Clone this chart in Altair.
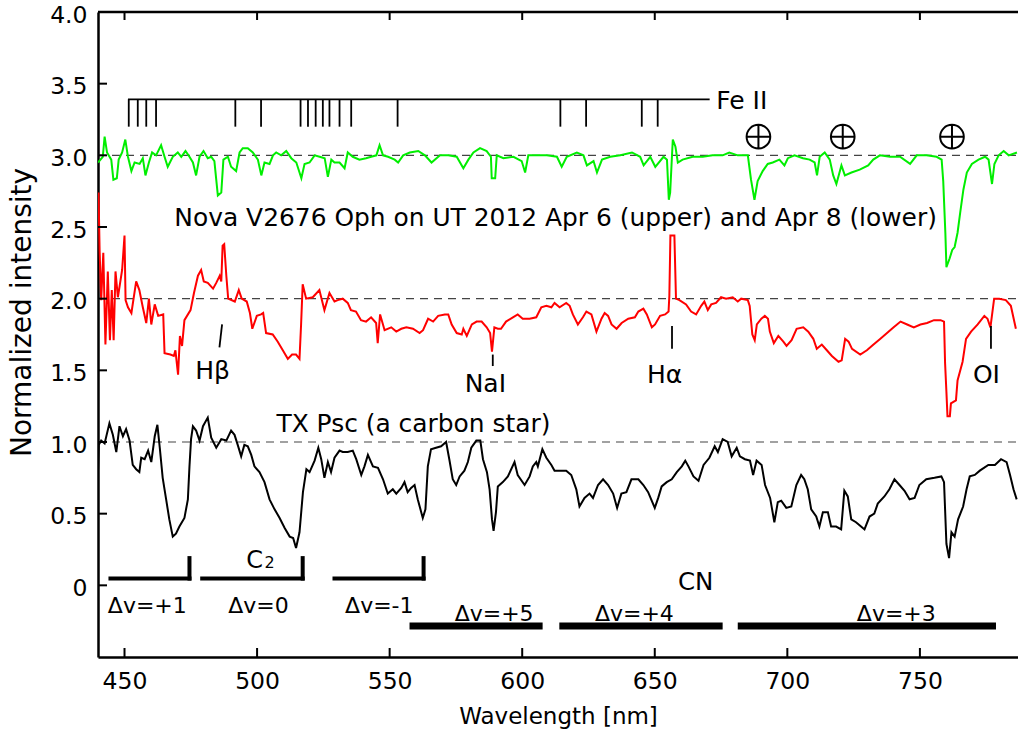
import altair as alt
import pandas as pd

# ---------------- data ----------------
green_wl = [440.0, 441.8, 442.5, 443.4, 445.0, 445.8, 447.1, 447.8, 449.1, 450.3, 451.3, 452.6, 453.8, 455.7, 456.9,
            457.9, 459.2, 460.4, 461.9, 463.8, 465.1, 466.3, 468.2, 470.1, 471.4, 473.0, 474.5, 475.8, 477.0, 478.3,
            479.8, 481.4, 482.7, 483.9, 484.6, 485.2, 486.5, 487.3, 489.0, 490.2, 492.1, 493.4, 494.6, 496.5, 498.4,
            500.3, 501.6, 502.8, 504.7, 506.0, 507.2, 509.1, 511.0, 512.9, 514.8, 516.7, 517.9, 519.8, 521.7, 523.6,
            525.5, 526.7, 528.0, 529.2, 531.1, 533.0, 534.2, 536.1, 538.6, 541.1, 543.0, 545.0, 546.2, 547.5, 549.4,
            551.9, 553.2, 555.1, 557.6, 560.8, 563.3, 565.8, 569.0, 572.1, 575.3, 577.8, 579.7, 581.6, 584.1, 586.6,
            588.2, 588.5, 589.8, 590.4, 592.9, 596.7, 599.8, 601.1, 602.3, 605.5, 609.3, 613.1, 614.9, 616.8, 620.6,
            623.1, 624.4, 626.9, 628.2, 630.1, 633.2, 637.0, 641.4, 644.5, 645.8, 648.3, 650.2, 653.3, 654.6, 655.3,
            655.8, 656.8, 657.8, 658.7, 660.5, 664.3, 668.1, 671.8, 675.6, 678.1, 681.3, 685.1, 686.3, 687.6, 688.8,
            690.7, 692.6, 694.5, 697.0, 698.9, 700.2, 702.7, 705.9, 708.4, 710.3, 711.2, 712.2, 714.1, 716.0, 717.3,
            718.5, 720.4, 721.7, 724.2, 727.3, 730.5, 732.4, 734.9, 738.7, 742.5, 746.3, 748.8, 752.5, 756.3, 758.2,
            758.8, 759.6, 760.0, 761.2, 762.2, 763.1, 764.2, 765.2, 766.4, 767.7, 769.6, 772.1, 774.6, 775.9, 777.2,
            778.1, 779.7, 781.6, 783.5, 786.6]
green_v = [2.95, 2.99, 3.13, 3.02, 2.97, 2.83, 2.84, 2.97, 3.02, 3.11, 2.99, 2.89, 2.95, 2.94, 2.98,
           2.86, 2.95, 3.02, 3.00, 3.07, 2.99, 2.92, 2.99, 3.02, 2.99, 3.03, 2.99, 2.95, 2.86, 2.99,
           3.03, 2.98, 2.99, 2.96, 2.83, 2.72, 2.74, 2.97, 2.99, 2.92, 2.89, 3.02, 3.05, 3.05, 3.02,
           2.97, 2.86, 2.95, 2.94, 3.00, 3.02, 3.00, 3.03, 2.98, 2.95, 2.84, 2.94, 2.95, 3.00, 2.99,
           2.98, 2.85, 2.97, 2.95, 2.95, 2.91, 3.02, 2.99, 2.97, 2.98, 2.99, 3.00, 3.07, 3.00, 2.99,
           2.97, 2.95, 3.00, 3.02, 3.03, 3.00, 2.95, 3.00, 3.00, 2.99, 2.91, 2.97, 3.02, 3.05, 3.03,
           2.99, 2.84, 2.84, 3.00, 2.98, 2.99, 2.96, 2.88, 3.00, 3.00, 3.00, 2.99, 2.92, 2.99, 3.02,
           3.00, 2.93, 2.96, 2.88, 2.97, 2.99, 3.00, 3.02, 2.99, 2.93, 2.99, 2.92, 2.99, 2.97, 2.69,
           2.74, 3.11, 3.06, 2.95, 2.97, 2.99, 2.99, 3.00, 3.00, 3.02, 3.00, 3.00, 2.83, 2.69, 2.82,
           2.89, 2.94, 2.95, 2.97, 2.93, 2.98, 3.00, 2.98, 2.97, 2.95, 2.86, 2.99, 3.02, 2.97, 2.86,
           2.80, 2.93, 2.86, 2.88, 2.90, 2.93, 2.97, 3.00, 2.99, 2.99, 2.94, 3.00, 3.00, 2.99, 2.97,
           2.82, 2.46, 2.22, 2.28, 2.34, 2.36, 2.46, 2.60, 2.76, 2.88, 2.94, 2.97, 2.99, 2.97, 2.80,
           2.94, 3.00, 3.03, 3.00, 3.02]

red_wl = [440.2, 440.6, 441.2, 442.0, 442.8, 443.7, 444.5, 445.2, 445.9, 446.6, 447.5, 449.1, 450.0, 450.4, 451.3,
          452.6, 454.4, 455.6, 456.9, 458.2, 459.2, 460.1, 461.4, 462.7, 464.6, 465.1, 467.3, 468.6, 469.2, 470.2,
          470.9, 471.7, 472.6, 474.9, 476.2, 477.7, 478.9, 479.9, 481.4, 483.4, 484.6, 485.9, 486.5, 487.0, 487.6,
          488.4, 489.1, 491.6, 493.1, 494.2, 496.1, 497.3, 498.2, 499.9, 501.5, 502.3, 503.4, 505.9, 507.8, 509.7,
          511.6, 513.2, 514.7, 516.0, 516.6, 517.2, 518.5, 521.0, 523.5, 525.4, 527.3, 529.2, 530.4, 532.3, 534.2,
          535.4, 537.3, 539.2, 541.1, 543.0, 544.9, 545.5, 546.4, 548.1, 550.6, 552.5, 554.4, 556.3, 558.8, 561.3,
          562.6, 564.5, 566.4, 568.3, 570.8, 572.1, 573.4, 575.3, 577.2, 577.8, 579.1, 581.0, 582.8, 584.7, 586.6,
          587.9, 588.6, 589.5, 590.8, 592.0, 593.9, 596.5, 598.3, 600.2, 602.8, 605.3, 607.2, 609.1, 611.0, 612.2,
          614.1, 616.6, 617.9, 619.1, 621.0, 622.9, 624.2, 626.1, 628.0, 629.9, 631.1, 632.4, 633.7, 635.6, 637.5,
          640.0, 642.5, 643.8, 645.7, 647.0, 648.9, 650.1, 652.0, 653.9, 655.2, 655.5, 655.9, 657.4, 658.0, 659.3,
          661.8, 663.7, 665.6, 667.5, 668.7, 670.0, 671.3, 673.1, 675.0, 676.9, 679.4, 681.3, 682.6, 685.1, 685.8,
          686.8, 687.7, 688.5, 690.2, 691.5, 692.7, 693.4, 694.9, 696.6, 698.5, 699.7, 701.6, 703.5, 706.0, 707.9,
          709.8, 711.1, 713.0, 714.9, 716.8, 719.3, 720.5, 721.8, 723.1, 724.4, 727.5, 730.0, 732.5, 735.1, 737.6,
          740.1, 742.7, 745.2, 747.7, 750.2, 752.7, 755.3, 757.8, 759.1, 759.5, 760.0, 760.4, 761.3, 761.7, 763.6,
          764.2, 766.1, 767.4, 769.3, 771.8, 774.3, 775.5, 776.6, 778.0, 779.9, 782.4, 784.3, 786.2]
red_v = [2.74, 2.34, 1.99, 2.32, 1.68, 2.19, 1.71, 2.06, 1.71, 2.19, 2.01, 2.20, 2.44, 1.99, 1.94,
         1.90, 2.12, 2.06, 1.94, 1.83, 2.00, 1.82, 1.96, 1.88, 1.89, 1.62, 1.61, 1.60, 1.64, 1.47,
         1.74, 1.67, 1.85, 1.92, 2.04, 2.16, 2.20, 2.12, 2.11, 2.07, 2.11, 2.16, 2.12, 2.37, 2.38,
         2.16, 2.00, 1.98, 2.06, 2.00, 1.98, 1.90, 1.79, 1.88, 1.89, 1.90, 1.76, 1.75, 1.70, 1.64,
         1.58, 1.61, 1.61, 1.58, 1.82, 2.10, 2.00, 2.01, 2.06, 1.92, 2.04, 1.98, 1.99, 2.00, 1.97,
         1.92, 1.91, 1.85, 1.84, 1.87, 1.83, 1.69, 1.89, 1.78, 1.80, 1.77, 1.79, 1.80, 1.79, 1.76,
         1.78, 1.86, 1.84, 1.88, 1.89, 1.89, 1.82, 1.76, 1.75, 1.79, 1.74, 1.82, 1.84, 1.84, 1.80,
         1.76, 1.63, 1.80, 1.79, 1.79, 1.84, 1.87, 1.89, 1.86, 1.86, 1.87, 1.94, 1.95, 1.94, 1.97,
         1.94, 1.97, 1.95, 1.89, 1.82, 1.87, 1.91, 1.89, 1.77, 1.86, 1.90, 1.88, 1.82, 1.79, 1.83,
         1.86, 1.87, 1.91, 1.93, 1.89, 1.80, 1.82, 1.88, 1.89, 1.91, 2.02, 2.44, 2.44, 2.00, 1.99,
         1.96, 1.91, 1.89, 1.95, 1.98, 1.92, 1.96, 1.97, 2.01, 2.00, 2.01, 1.98, 2.00, 1.99, 1.95,
         1.75, 1.71, 1.82, 1.86, 1.88, 1.86, 1.77, 1.69, 1.74, 1.70, 1.67, 1.71, 1.79, 1.80, 1.77,
         1.72, 1.65, 1.68, 1.64, 1.60, 1.56, 1.57, 1.72, 1.70, 1.65, 1.61, 1.64, 1.68, 1.72, 1.76,
         1.80, 1.84, 1.82, 1.80, 1.82, 1.83, 1.85, 1.85, 1.84, 1.55, 1.35, 1.18, 1.18, 1.27, 1.29,
         1.43, 1.56, 1.72, 1.77, 1.82, 1.88, 1.86, 1.80, 2.00, 2.00, 1.99, 1.95, 1.79]

black_wl = [440.0, 440.3, 441.2, 442.5, 444.3, 445.6, 446.9, 448.1, 449.4, 450.6, 451.9, 453.1, 454.4, 455.6, 456.3,
            457.6, 458.9, 460.1, 461.4, 462.4, 463.3, 464.4, 465.7, 466.9, 468.2, 469.4, 470.7, 472.6, 473.9, 474.5,
            475.1, 475.8, 477.0, 478.3, 479.6, 481.4, 482.7, 484.6, 486.5, 488.4, 490.2, 491.5, 492.7, 494.0, 495.2,
            496.5, 497.8, 499.0, 500.9, 502.8, 504.7, 506.6, 508.5, 510.4, 512.3, 513.6, 514.7, 516.0, 517.3, 518.6,
            519.8, 521.7, 523.1, 524.2, 525.4, 526.7, 527.9, 529.2, 531.1, 532.3, 534.2, 536.1, 537.4, 539.3, 540.5,
            541.8, 543.7, 545.6, 547.5, 549.3, 551.2, 552.5, 554.4, 555.6, 556.8, 558.1, 559.4, 560.6, 562.5, 563.5,
            564.4, 565.6, 567.5, 569.4, 571.3, 572.5, 573.8, 575.1, 576.4, 578.2, 579.5, 580.8, 582.7, 584.2, 585.2,
            586.7, 587.7, 588.6, 589.2, 590.1, 590.8, 592.7, 594.6, 597.1, 598.3, 600.9, 602.8, 604.0, 605.3, 605.9,
            607.6, 609.1, 611.0, 612.2, 614.1, 616.6, 618.5, 620.4, 621.6, 623.5, 625.4, 626.7, 628.6, 630.5, 632.4,
            634.3, 635.8, 637.4, 639.3, 641.2, 643.8, 645.7, 647.5, 650.0, 651.3, 652.6, 654.5, 656.4, 658.3, 660.2,
            661.5, 662.7, 664.6, 666.5, 668.4, 670.6, 672.6, 673.8, 675.6, 677.5, 679.0, 680.9, 682.1, 684.0, 685.9,
            687.1, 688.4, 690.3, 691.6, 693.5, 695.1, 696.4, 697.7, 699.6, 701.5, 703.4, 705.2, 706.4, 707.7, 709.0,
            710.9, 712.1, 713.4, 715.3, 716.5, 718.4, 720.3, 721.5, 722.8, 724.1, 725.9, 727.8, 729.1, 731.0, 732.8,
            734.1, 736.6, 738.5, 740.4, 742.3, 744.2, 746.1, 748.0, 749.8, 752.4, 755.5, 758.1, 759.1, 760.0, 761.0,
            761.9, 763.1, 764.4, 766.3, 767.6, 768.8, 770.7, 772.6, 775.8, 778.3, 780.6, 782.7, 784.0, 785.3, 786.5]
black_v = [0.80, 0.98, 1.01, 0.99, 1.13, 1.05, 0.93, 1.11, 1.04, 1.09, 1.01, 0.84, 0.81, 0.79, 0.89,
           0.88, 0.94, 0.86, 1.04, 1.12, 0.96, 0.75, 0.60, 0.46, 0.34, 0.36, 0.41, 0.47, 0.60, 0.83,
           1.02, 1.11, 1.08, 1.01, 1.11, 1.17, 1.03, 0.96, 1.02, 1.01, 1.08, 1.05, 0.98, 0.90, 0.98,
           0.97, 0.91, 0.83, 0.79, 0.72, 0.60, 0.53, 0.47, 0.40, 0.34, 0.33, 0.26, 0.37, 0.65, 0.81,
           0.79, 0.87, 0.96, 0.88, 0.75, 0.86, 0.79, 0.89, 0.94, 0.93, 0.93, 0.94, 0.88, 0.77, 0.83,
           0.91, 0.83, 0.82, 0.74, 0.64, 0.67, 0.64, 0.68, 0.72, 0.65, 0.68, 0.70, 0.60, 0.47, 0.53,
           0.83, 0.95, 0.96, 0.97, 1.00, 0.88, 0.74, 0.70, 0.76, 0.80, 0.86, 0.96, 1.01, 1.01, 0.88,
           0.79, 0.67, 0.46, 0.38, 0.51, 0.69, 0.72, 0.76, 0.86, 0.77, 0.70, 0.76, 0.83, 0.86, 0.83,
           0.95, 0.89, 0.84, 0.80, 0.80, 0.80, 0.77, 0.67, 0.55, 0.61, 0.64, 0.61, 0.70, 0.74, 0.70,
           0.64, 0.54, 0.64, 0.65, 0.74, 0.74, 0.70, 0.65, 0.54, 0.61, 0.69, 0.72, 0.74, 0.79, 0.83,
           0.87, 0.83, 0.76, 0.73, 0.84, 0.89, 0.97, 0.93, 1.02, 1.00, 0.90, 0.96, 0.90, 0.88, 0.87,
           0.77, 0.87, 0.84, 0.70, 0.61, 0.44, 0.58, 0.59, 0.54, 0.55, 0.70, 0.77, 0.74, 0.67, 0.53,
           0.48, 0.41, 0.51, 0.51, 0.41, 0.41, 0.39, 0.66, 0.62, 0.46, 0.44, 0.41, 0.39, 0.48, 0.50,
           0.57, 0.62, 0.67, 0.74, 0.70, 0.66, 0.60, 0.61, 0.70, 0.74, 0.75, 0.76, 0.72, 0.29, 0.19,
           0.37, 0.34, 0.46, 0.55, 0.67, 0.76, 0.77, 0.80, 0.84, 0.84, 0.88, 0.86, 0.77, 0.67, 0.60]

ref_levels = [1.0, 2.0, 3.0]

# Fe II marker lines
feii_lines = [451.6, 455.0, 458.2, 461.9, 491.8, 501.5, 516.4, 519.2, 522.1, 524.8, 527.3, 531.1, 535.5, 553.0,
              614.4, 624.1, 645.1, 651.1]
feii_bar = [451.3, 670.7]
feii_level = [3.39, 3.20]

# telluric symbols
telluric_wl = [689.1, 720.9, 762.1]
telluric_y = [3.13, 3.13, 3.13]

# line identifications
id_labels = ["Hβ", "NaI", "Hα", "OI"]
id_tick_x1 = [486.8, 588.9, 656.5, 776.8]
id_tick_x2 = [485.8, 588.9, 656.5, 776.8]
id_tick_top = [1.82, 1.61, 1.81, 1.81]
id_tick_bot = [1.66, 1.53, 1.65, 1.65]
id_label_x = [483.2, 586.1, 653.7, 775.1]
id_label_y = [1.44, 1.35, 1.41, 1.41]

# C2 band heads (brackets)
c2_start = [444.7, 479.3, 529.2]
c2_end = [474.5, 517.2, 562.8]
c2_level = [0.047, 0.19]
c2_labels = ["Δv=+1", "Δv=0", "Δv=-1"]
c2_label_x = [458.6, 500.5, 546.1]
c2_label_y = [-0.19, -0.19, -0.19]

# CN bands
cn_start = [557.5, 614.0, 681.3]
cn_end = [607.7, 675.6, 778.7]
cn_level = -0.284
cn_labels = ["Δv=+5", "Δv=+4", "Δv=+3"]
cn_label_x = [589.4, 642.3, 741.1]
cn_label_y = [-0.25, -0.25, -0.25]

x_ticks = [450, 500, 550, 600, 650, 700, 750]
y_ticks = [0, 0.5, 1.0, 1.5, 2.0, 2.5, 3.0, 3.5, 4.0]

FONT = "DejaVu Sans"
W, H = 920, 645

xscale = alt.Scale(domain=[440, 787], nice=False, zero=False)
yscale = alt.Scale(domain=[-0.5, 4.0], nice=False, zero=False)
xaxis = alt.Axis(values=x_ticks, format="d", labelFontSize=23.5, labelFont=FONT, labelColor="black",
                 labelBaseline="alphabetic", labelPadding=31, ticks=False, grid=False,
                 domainColor="black", domainWidth=2.5, title="Wavelength [nm]", titleFont=FONT,
                 titleFontSize=23, titleFontWeight="normal", titleColor="black",
                 titleBaseline="alphabetic", titleX=460, titleY=66)
yaxis = alt.Axis(values=y_ticks, labelExpr="datum.value == 0 ? '0' : format(datum.value, '.1f')",
                 labelFontSize=23.5, labelFont=FONT, labelColor="black", labelPadding=11, labelOffset=3,
                 ticks=False, grid=False, domainColor="black", domainWidth=2.5, title="Normalized intensity",
                 titleFont=FONT, titleFontSize=28, titleFontWeight="normal", titleColor="black",
                 titleBaseline="alphabetic", titleAngle=270, titleX=-68, titleY=300)


def X(f):
    return alt.X(f, type="quantitative", scale=xscale, axis=xaxis)


def Y(f):
    return alt.Y(f, type="quantitative", scale=yscale, axis=yaxis)


green = pd.DataFrame({"wl": green_wl, "v": green_v})
red = pd.DataFrame({"wl": red_wl, "v": red_v})
black = pd.DataFrame({"wl": black_wl, "v": black_v})

dashed = alt.Chart(pd.DataFrame({"y": ref_levels})).mark_rule(
    stroke="#444444", strokeWidth=1.2, strokeDash=[8, 6]).encode(
    y=Y("y"), x=alt.value(0), x2=alt.value(W))

line_green = alt.Chart(green).mark_line(color="#00ee00", strokeWidth=2, clip=True).encode(x=X("wl"), y=Y("v"))
line_red = alt.Chart(red).mark_line(color="#ff0000", strokeWidth=2, clip=True).encode(x=X("wl"), y=Y("v"))
line_black = alt.Chart(black).mark_line(color="black", strokeWidth=2, clip=True).encode(x=X("wl"), y=Y("v"))

# Fe II
feii_h = alt.Chart(pd.DataFrame({"a": [feii_bar[0]], "b": [feii_bar[1]], "y": [feii_level[0]]})).mark_rule(
    color="black", strokeWidth=1.8).encode(x=X("a"), x2="b", y=Y("y"))
feii_t = alt.Chart(pd.DataFrame({"x": feii_lines, "y1": feii_level[0], "y2": feii_level[1]})).mark_rule(
    color="black", strokeWidth=1.8).encode(x=X("x"), y=Y("y1"), y2="y2")
feii_txt = alt.Chart(pd.DataFrame({"x": [673.2], "y": [3.32], "t": ["Fe II"]})).mark_text(
    font=FONT, fontSize=25, align="left", baseline="alphabetic", color="black").encode(
    x=X("x"), y=Y("y"), text="t")

oplus = alt.Chart(pd.DataFrame({"x": telluric_wl, "y": telluric_y})).mark_point(
    shape="M-1,0A1,1,0,1,0,1,0A1,1,0,1,0,-1,0ZM-1,0L1,0M0,-1L0,1", size=560, filled=False,
    stroke="black", strokeWidth=2, opacity=1).encode(x=X("x"), y=Y("y"))

# line IDs
id_df = pd.DataFrame({"lab": id_labels, "x1": id_tick_x1, "x2": id_tick_x2, "yt": id_tick_top,
                      "yb": id_tick_bot, "lx": id_label_x, "ly": id_label_y})
id_ticks = alt.Chart(id_df).mark_rule(color="black", strokeWidth=1.8).encode(
    x=X("x1"), x2="x2", y=Y("yt"), y2="yb")
id_text = alt.Chart(id_df).mark_text(font=FONT, fontSize=25, align="center", baseline="alphabetic",
                                     color="black").encode(x=X("lx"), y=Y("ly"), text="lab")

# titles in plot
title_df = pd.DataFrame({"x": [468.8, 507.3], "y": [2.506, 1.067],
                         "t": ["Nova V2676 Oph on UT 2012 Apr 6 (upper) and Apr 8 (lower)",
                               "TX Psc (a carbon star)"]})
titles = alt.Chart(title_df).mark_text(font=FONT, fontSize=24.9, align="left", baseline="alphabetic",
                                       color="black").encode(x=X("x"), y=Y("y"), text="t")

# C2 brackets
c2_df = pd.DataFrame({"a": c2_start, "b": c2_end, "lo": c2_level[0], "hi": c2_level[1],
                      "lab": c2_labels, "lx": c2_label_x, "ly": c2_label_y})
c2_h = alt.Chart(c2_df).mark_rule(color="black", strokeWidth=4, strokeCap="square").encode(
    x=X("a"), x2="b", y=Y("lo"))
c2_v = alt.Chart(c2_df).mark_rule(color="black", strokeWidth=4, strokeCap="square").encode(
    x=X("b"), y=Y("lo"), y2="hi")
c2_text = alt.Chart(c2_df).mark_text(font=FONT, fontSize=22, align="center", baseline="alphabetic",
                                     color="black").encode(x=X("lx"), y=Y("ly"), text="lab")
c_txt = alt.Chart(pd.DataFrame({"x": [495.9], "y": [0.123], "t": ["C"]})).mark_text(
    font=FONT, fontSize=24, align="left", baseline="alphabetic", color="black").encode(
    x=X("x"), y=Y("y"), text="t")
c_sub = alt.Chart(pd.DataFrame({"x": [502.8], "y": [0.123], "t": ["2"]})).mark_text(
    font=FONT, fontSize=16, align="left", baseline="alphabetic", color="black").encode(
    x=X("x"), y=Y("y"), text="t")

# CN bands
cn_df = pd.DataFrame({"a": cn_start, "b": cn_end, "y": cn_level,
                      "lab": cn_labels, "lx": cn_label_x, "ly": cn_label_y})
cn_bars = alt.Chart(cn_df).mark_rule(color="black", strokeWidth=7).encode(x=X("a"), x2="b", y=Y("y"))
cn_text = alt.Chart(cn_df).mark_text(font=FONT, fontSize=22, align="center", baseline="alphabetic",
                                     color="black").encode(x=X("lx"), y=Y("ly"), text="lab")
cn_lab = alt.Chart(pd.DataFrame({"x": [665.4], "y": [-0.035], "t": ["CN"]})).mark_text(
    font=FONT, fontSize=24.5, align="center", baseline="alphabetic", color="black").encode(
    x=X("x"), y=Y("y"), text="t")

# frame: top border and inward ticks
top_border = alt.Chart(pd.DataFrame({"k": [0]})).mark_rule(color="black", strokeWidth=2.5).encode(
    x=alt.value(0), x2=alt.value(W), y=alt.value(0))
xt = pd.DataFrame({"t": x_ticks})
ticks_bottom = alt.Chart(xt).mark_rule(color="black", strokeWidth=2).encode(
    x=X("t"), y=alt.value(H), y2=alt.value(H - 9))
ticks_top = alt.Chart(xt).mark_rule(color="black", strokeWidth=2).encode(
    x=X("t"), y=alt.value(0), y2=alt.value(8))
ticks_left = alt.Chart(pd.DataFrame({"t": y_ticks})).mark_rule(color="black", strokeWidth=2).encode(
    y=Y("t"), x=alt.value(0), x2=alt.value(9))

chart = alt.layer(
    dashed, line_black, line_red, line_green,
    feii_h, feii_t, feii_txt, oplus, id_ticks, id_text, titles,
    c2_h, c2_v, c2_text, c_txt, c_sub, cn_bars, cn_text, cn_lab,
    top_border, ticks_bottom, ticks_top, ticks_left,
).properties(
    width=W, height=H,
    autosize=alt.AutoSizeParams(type="none"),
    padding={"left": 98, "top": 12, "right": 0, "bottom": 76},
    background="white",
).configure_view(stroke=None).configure(font=FONT)

chart.save("out.html", embed_options={"renderer": "svg", "actions": False})
